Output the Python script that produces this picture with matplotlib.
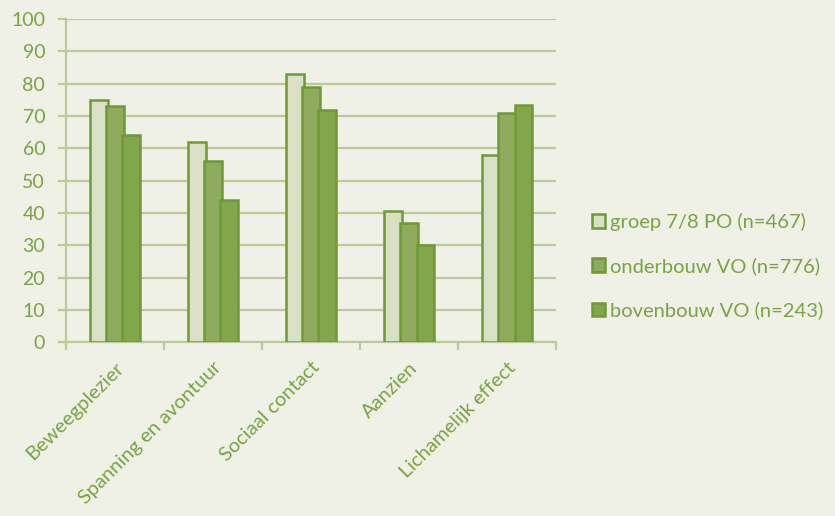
import numpy as np
import matplotlib.pyplot as plt
from matplotlib.transforms import ScaledTranslation

categories = ["Beweegplezier", "Spanning en avontuur", "Sociaal contact", "Aanzien", "Lichamelijk effect"]
series_names = ["groep 7/8 PO (n=467)", "onderbouw VO (n=776)", "bovenbouw VO (n=243)"]
groep78 = [75, 62, 83, 40.5, 58]
onderbouw = [73, 56, 79, 37, 71]
bovenbouw = [64, 44, 72, 30, 73.5]

bg = "#EFF0E6"
txt = "#7BA344"
grid = "#B9CB9A"
edge = "#6E9A35"
fills = ["#DAE0C6", "#8FAB5D", "#83A54B"]

plt.rcParams["font.family"] = ["Lato", "DejaVu Sans"]

fig = plt.figure(figsize=(8.35, 5.16), dpi=100, facecolor=bg)
ax = fig.add_axes([0.079, 0.337, 0.587, 0.626], facecolor=bg)

x = np.arange(len(categories))
step = 0.166
width = 0.18
for i, (vals, name) in enumerate(zip([groep78, onderbouw, bovenbouw], series_names)):
    ax.bar(x + (i - 1) * step, vals, width, color=fills[i], edgecolor=edge,
           linewidth=1.8, label=name, zorder=3 + i)

ax.set_ylim(0, 100)
ax.set_xlim(-0.5, len(categories) - 0.5)
ax.set_yticks(range(0, 101, 10))
ax.yaxis.grid(True, color=grid, linewidth=1.6, zorder=0)
ax.set_axisbelow(True)

# category boundaries get the tick marks, names sit on the minor ticks
ax.set_xticks(np.arange(-0.5, len(categories), 1.0))
ax.set_xticklabels([])
ax.set_xticks(x, minor=True)
labels = ax.set_xticklabels(categories, minor=True, rotation=45, ha="right",
                            rotation_mode="anchor", color=txt, fontsize=14.5)
shift = ScaledTranslation(-10 / 100, 0, fig.dpi_scale_trans)
for lab in labels:
    lab.set_transform(lab.get_transform() + shift)
ax.tick_params(axis="x", which="minor", length=0, pad=12)
ax.tick_params(axis="x", which="major", length=6, color=grid, width=1.6)
ax.tick_params(axis="y", length=6, color=grid, width=1.6, labelcolor=txt,
               labelsize=14, pad=9)

for s in ["top", "right"]:
    ax.spines[s].set_visible(False)
for s in ["left", "bottom"]:
    ax.spines[s].set_color(grid)
    ax.spines[s].set_linewidth(1.6)

leg = fig.legend(loc="center left", bbox_to_anchor=(0.709, 0.484), frameon=False,
                 fontsize=14.5, labelcolor=txt, handlelength=0.65, handleheight=0.65,
                 handletextpad=0.25, labelspacing=1.3, borderpad=0, borderaxespad=0)

fig.savefig("out.png", dpi=100, facecolor=bg)
